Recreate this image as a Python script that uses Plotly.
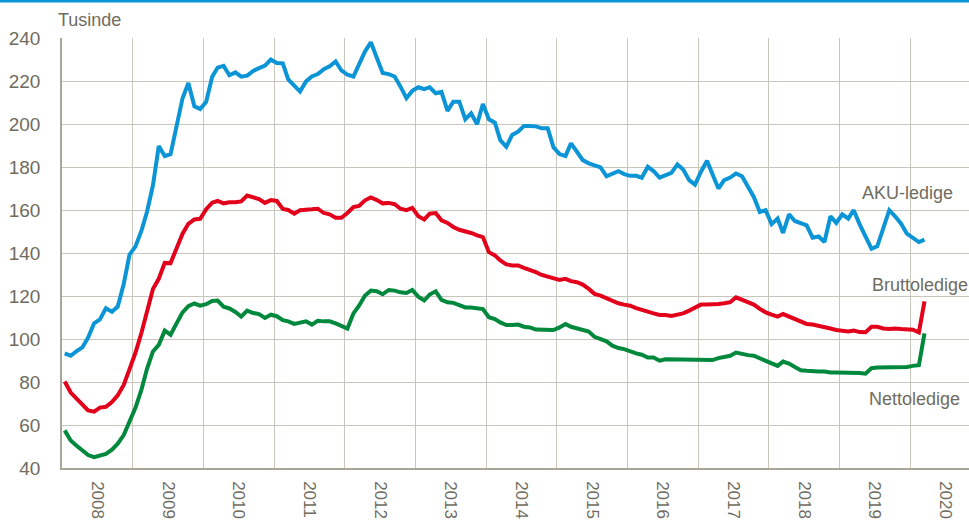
import pandas as pd
import plotly.graph_objects as go

# Monthly observations, Jan 2008 - Mar 2020 (thousands)
start_month = "2008-01"
n_months = 147

aku_ledige = [
    93.3, 92.2, 94.2, 96.1, 100.7, 107.3, 109.1, 114.3, 112.7, 115.1, 125.6, 139.3,
    143.1, 150.5, 159.1, 171.5, 189.7, 185.1, 186.0, 198.8, 212.0, 219.1, 208.2, 207.0,
    210.3, 222.0, 226.2, 227.0, 222.7, 224.0, 222.0, 222.5, 224.7, 226.0, 227.2, 230.0,
    228.4, 228.2, 220.7, 217.8, 215.1, 219.8, 222.1, 223.2, 225.5, 226.8, 229.1, 224.9,
    222.9, 222.1, 228.3, 233.8, 238.0, 231.0, 223.7, 223.2, 222.1, 217.4, 212.0, 215.4,
    217.1, 216.2, 217.1, 214.3, 214.9, 206.1, 210.4, 210.4, 202.2, 205.0, 199.9, 209.3,
    202.2, 200.6, 192.5, 189.4, 194.9, 196.4, 199.1, 199.1, 198.9, 198.0, 198.0, 189.1,
    186.0, 185.1, 191.0, 187.1, 183.2, 181.7, 180.9, 179.8, 175.7, 177.0, 178.1, 176.7,
    175.9, 175.9, 175.0, 180.1, 178.1, 175.1, 176.2, 177.3, 181.2, 178.8, 173.9, 171.8,
    177.8, 182.9, 176.7, 170.0, 173.9, 175.1, 177.0, 175.7, 170.8, 166.1, 159.1, 159.9,
    153.4, 156.0, 149.3, 158.0, 154.9, 154.0, 152.9, 147.1, 147.7, 145.1, 157.1, 154.0,
    158.0, 156.0, 159.9, 153.3, 147.4, 142.0, 143.1, 152.1, 159.9, 157.1, 153.6, 149.0,
    147.1, 145.1, 146.2,
]

bruttoledige = [
    80.2, 75.1, 72.4, 69.3, 66.8, 66.2, 68.1, 68.5, 70.7, 73.8, 78.6, 86.0,
    93.7, 103.0, 113.2, 123.3, 128.0, 135.4, 135.3, 142.8, 149.0, 153.6, 155.6, 155.9,
    160.4, 163.4, 164.2, 163.1, 163.6, 163.6, 164.0, 166.7, 166.0, 165.1, 163.3, 164.6,
    164.2, 160.5, 160.0, 158.3, 159.9, 159.9, 160.3, 160.6, 158.6, 158.0, 156.4, 156.4,
    158.6, 161.4, 161.9, 164.5, 165.8, 164.6, 163.1, 163.3, 162.7, 160.6, 159.9, 161.0,
    157.1, 155.6, 158.3, 158.6, 155.2, 154.0, 152.1, 150.8, 150.1, 149.3, 148.2, 147.4,
    140.4, 138.9, 136.5, 134.7, 134.2, 134.2, 133.1, 132.2, 131.1, 129.8, 129.1, 128.4,
    127.5, 128.0, 126.9, 126.4, 125.3, 123.3, 121.0, 120.2, 119.0, 117.5, 116.6, 116.0,
    115.5, 114.4, 113.5, 112.4, 111.9, 111.2, 111.2, 110.7, 111.2, 111.9, 113.2, 114.4,
    116.0, 116.0, 116.0, 116.3, 116.6, 117.1, 119.4, 118.2, 117.1, 116.0, 114.0, 112.4,
    111.3, 110.4, 111.6, 110.4, 109.3, 107.7, 107.0, 106.7, 106.2, 105.7, 104.9, 104.2,
    103.9, 103.5, 103.9, 103.2, 103.1, 105.7, 105.7, 104.9, 104.6, 104.9, 104.6, 104.6,
    104.3, 103.1, 117.5,
]

nettoledige = [
    57.5, 52.8, 50.5, 48.1, 46.0, 45.0, 46.0, 46.6, 48.5, 51.3, 55.3, 61.1,
    68.1, 76.6, 86.0, 94.2, 97.3, 103.9, 102.0, 107.3, 112.4, 115.3, 116.5, 115.5,
    116.2, 117.7, 117.9, 115.0, 114.2, 112.6, 110.4, 113.2, 112.1, 111.6, 109.8, 111.3,
    110.6, 108.8, 108.2, 107.0, 107.7, 108.2, 106.7, 108.5, 108.2, 108.2, 107.3, 106.2,
    104.9, 111.9, 115.5, 120.2, 122.5, 122.2, 120.8, 122.8, 122.5, 121.7, 121.4, 122.8,
    119.7, 117.9, 120.7, 122.2, 118.2, 117.1, 116.8, 115.8, 114.7, 114.7, 114.3, 113.9,
    110.1, 109.3, 107.7, 106.5, 106.5, 106.7, 105.7, 105.4, 104.4, 104.2, 104.2, 104.2,
    105.4, 107.0, 105.7, 105.1, 104.2, 103.5, 101.0, 100.0, 98.9, 96.9, 95.8, 95.3,
    94.2, 93.3, 92.7, 91.4, 91.4, 89.9, 90.6, 90.6, 90.3, 90.2, 90.2, 90.2,
    90.6, 90.6, 90.2, 91.1, 91.7, 92.2, 93.7, 93.0, 92.5, 92.2, 91.1, 89.9,
    88.6, 87.5, 89.5, 88.6, 87.0, 85.5, 85.2, 84.9, 84.9, 84.9, 84.4, 84.4,
    84.4, 84.1, 84.2, 84.2, 83.9, 86.4, 86.7, 86.7, 86.7, 86.7, 87.0, 87.0,
    87.5, 87.8, 102.6,
]

series_names = ["AKU-ledige", "Bruttoledige", "Nettoledige"]
series_colors = ["#0b95d6", "#e3001b", "#00883c"]
y_ticks = [40, 60, 80, 100, 120, 140, 160, 180, 200, 220, 240]
unit_label = "Tusinde"

# points at the middle of each month (category-style axis)
months = pd.date_range(start_month + "-01", periods=n_months, freq="MS") + pd.Timedelta(days=14)

TEXT = "#6f6c5f"
GRID = "#c8c5ba"
AXIS = "#a9a697"
FONT = "Liberation Sans, Arial, sans-serif"

fig = go.Figure()
for name, vals, col in zip(series_names, [aku_ledige, bruttoledige, nettoledige], series_colors):
    fig.add_trace(go.Scatter(x=months, y=vals, mode="lines", name=name,
                             line=dict(color=col, width=4), showlegend=False))

W, H = 969, 521
ml, mr, mt, mb = 62, 0, 38, 53
pw, ph = W - ml - mr, H - mt - mb

fig.update_layout(
    width=W, height=H,
    margin=dict(l=ml, r=mr, t=mt, b=mb, autoexpand=False),
    paper_bgcolor="white", plot_bgcolor="white",
    font=dict(family=FONT, color=TEXT, size=19),
    xaxis=dict(
        type="date", range=["2008-01-01", "2020-10-31"],
        tick0="2008-01-01", dtick="M12", tickformat="%Y",
        ticklabelmode="period", tickangle=90,
        showgrid=True, gridcolor=GRID, gridwidth=1,
        showline=True, linecolor=AXIS, linewidth=1.5,
        ticks="", ticklabelstandoff=8, automargin=False,
        tickfont=dict(size=17, color=TEXT), zeroline=False,
    ),
    yaxis=dict(
        range=[40, 240], tickvals=y_ticks,
        showgrid=True, gridcolor=GRID, gridwidth=1,
        showline=True, linecolor=AXIS, linewidth=1.5,
        ticks="", ticklabelstandoff=16, automargin=False,
        tickfont=dict(size=19, color=TEXT), zeroline=False,
    ),
)

# top rule in blue
fig.add_shape(type="line", xref="paper", yref="paper",
              x0=-ml / pw, x1=1.0, y0=(ph + mt - 1.2) / ph, y1=(ph + mt - 1.2) / ph,
              line=dict(color="#0b95d6", width=2.5))

fig.add_annotation(text=unit_label, xref="paper", yref="paper",
                   x=-6 / pw, y=(ph + 18) / ph, xanchor="left", yanchor="middle",
                   showarrow=False, font=dict(size=18, color=TEXT, family=FONT))

label_pos = [("2019-12-20", 167.9), ("2020-02-19", 125.1), ("2020-01-23", 72.1)]
for name, (lx, ly) in zip(series_names, label_pos):
    fig.add_annotation(text=name, x=lx, y=ly, xanchor="center", yanchor="middle",
                       showarrow=False, font=dict(size=18, color=TEXT, family=FONT))

fig.write_html("out.html", config={"displayModeBar": False},
               post_script="document.body.style.margin='0';document.body.style.overflow='hidden';")
